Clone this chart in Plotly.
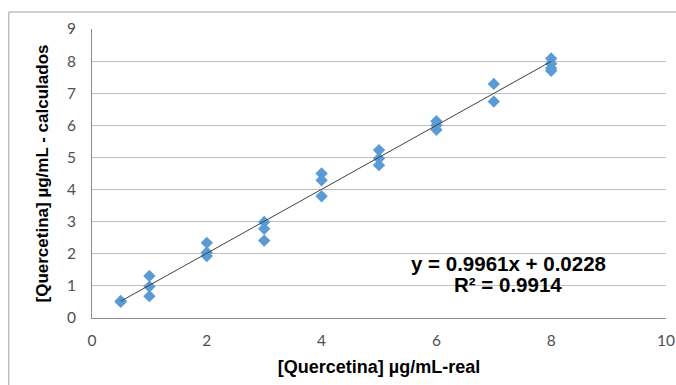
import plotly.graph_objects as go
import numpy as np

# Data
x_real = [0.5, 0.5, 1, 1, 1, 2, 2, 2, 3, 3, 3, 4, 4, 4, 5, 5, 5, 6, 6, 6, 7, 7, 8, 8, 8, 8]
y_calc = [0.50, 0.53, 1.31, 0.98, 0.68, 2.34, 2.04, 1.93, 2.99, 2.78, 2.41,
          4.50, 4.29, 3.79, 5.23, 4.97, 4.76, 6.13, 6.00, 5.86, 7.29, 6.74,
          8.08, 7.92, 7.78, 7.70]
slope = 0.9961
intercept = 0.0228
r2 = 0.9914
x_ticks = [0, 2, 4, 6, 8, 10]
y_ticks = [0, 1, 2, 3, 4, 5, 6, 7, 8, 9]

x_title = "[Quercetina] µg/mL-real"
y_title = "[Quercetina] µg/mL - calculados"

trend_x = np.array([min(x_real), max(x_real)])
trend_y = slope * trend_x + intercept

fig = go.Figure()
fig.add_trace(go.Scatter(
    x=x_real, y=y_calc, mode="markers",
    marker=dict(symbol="diamond", size=9.5, color="#5B9BD5", line=dict(width=0)),
    showlegend=False, hoverinfo="x+y"))
fig.add_trace(go.Scatter(
    x=trend_x, y=trend_y, mode="lines",
    line=dict(color="#404040", width=1), showlegend=False, hoverinfo="skip"))

tick_font = dict(family="Lato, Open Sans, sans-serif", size=15.5, color="#505050")
bold_font = "Liberation Sans, Arial, sans-serif"

fig.update_layout(
    template="none",
    width=676, height=385,
    margin=dict(l=92, r=10, t=29, b=67, autoexpand=False),
    paper_bgcolor="white", plot_bgcolor="white",
    xaxis=dict(range=[0, 10], tickvals=x_ticks, showgrid=False, zeroline=False,
               showline=True, linecolor="#8c8c8c", linewidth=1, automargin=False,
               ticks="", ticklabelstandoff=8, tickfont=tick_font,
               title=dict(text="<b>" + x_title + "</b>",
                          font=dict(family=bold_font, size=18, color="#000000"), standoff=12)),
    yaxis=dict(range=[0, 9], tickvals=y_ticks, showgrid=True, gridcolor="#c0c0c0",
               gridwidth=1, zeroline=False, automargin=False,
               showline=True, linecolor="#8c8c8c", linewidth=1,
               ticks="", ticklabelstandoff=12, tickfont=tick_font,
               title=dict(text="<b>" + y_title + "</b>",
                          font=dict(family=bold_font, size=17, color="#000000"), standoff=13)),
    shapes=[
        dict(type="rect", xref="paper", yref="paper", x0=-0.1449, x1=1.03, y0=-0.26, y1=1.0588,
             line=dict(color="#a0a0a0", width=1), fillcolor="rgba(0,0,0,0)", layer="below"),
        dict(type="rect", xref="paper", yref="y", x0=0.546, x1=0.9075, y0=0.55, y1=2.15,
             line=dict(width=0), fillcolor="white", layer="between"),
    ],
    annotations=[
        dict(x=7.25, y=1.69, xref="x", yref="y", showarrow=False,
             text="<b>y = %.4fx + %.4f</b>" % (slope, intercept),
             font=dict(family=bold_font, size=20.5, color="#000000")),
        dict(x=7.25, y=1.04, xref="x", yref="y", showarrow=False,
             text="<b>R² = %.4f</b>" % r2,
             font=dict(family=bold_font, size=20.5, color="#000000")),
    ],
)

fig.write_html("out.html")
